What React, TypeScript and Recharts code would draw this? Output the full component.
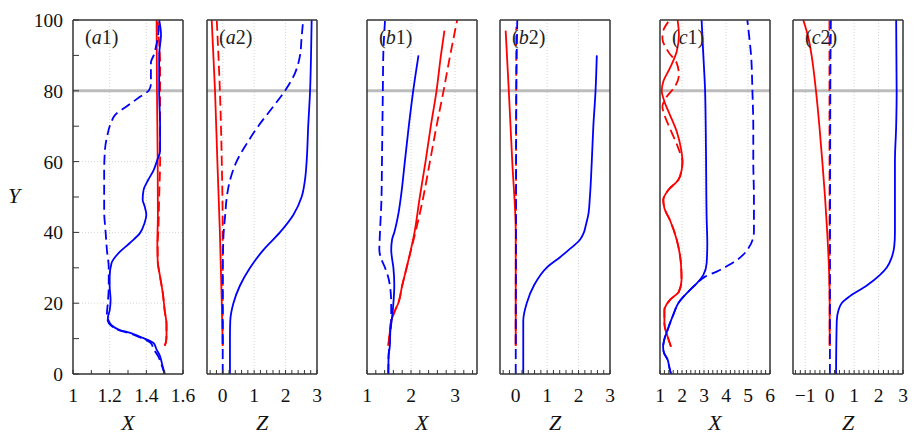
import { LineChart, Line, XAxis, YAxis, CartesianGrid, ReferenceLine } from 'recharts';

// vertical coordinate Y (shared by all panels)
const yTicks = [0, 10, 20, 30, 40, 50, 60, 70, 80, 90, 100];
const yLabels = [0, 20, 40, 60, 80, 100];
const yGrid = [20, 40, 60];
const markerY = 80;

// series as [Y, value] pairs
const a1BlueSolid = [[0, 1.5], [3, 1.485], [5, 1.475], [7, 1.455], [8.7, 1.44], [10, 1.39], [10.5, 1.365], [11.5, 1.32], [12.4, 1.255], [13.8, 1.21], [15, 1.195], [15.8, 1.19], [18, 1.2], [21, 1.205], [24.7, 1.2], [27.5, 1.2], [31.3, 1.21], [34, 1.246], [37, 1.31], [39.8, 1.365], [42.6, 1.39], [45, 1.4], [47.5, 1.39], [49.2, 1.38], [52, 1.385], [54.8, 1.41], [57.6, 1.44], [60.5, 1.46], [63, 1.475], [70, 1.475], [80, 1.47], [90, 1.47], [96, 1.48], [100, 1.47]];
const a1BlueDashed = [[0, 1.5], [3, 1.48], [5, 1.465], [7, 1.44], [8.7, 1.425], [10, 1.38], [11.5, 1.31], [12.4, 1.25], [13.8, 1.205], [15, 1.19], [17, 1.185], [20, 1.19], [25, 1.195], [30, 1.195], [35, 1.185], [40, 1.178], [46, 1.17], [50, 1.17], [57, 1.17], [63.7, 1.175], [68, 1.19], [70, 1.2], [71.3, 1.21], [73.2, 1.23], [75.5, 1.29], [78.3, 1.365], [80.2, 1.415], [82, 1.425], [85, 1.425], [88, 1.425], [90, 1.44], [93, 1.455], [96, 1.465], [100, 1.47]];
const a1RedSolid = [[8, 1.5], [9, 1.507], [11, 1.51], [14, 1.51], [18, 1.5], [22.8, 1.49], [27.5, 1.475], [32, 1.462], [37, 1.46], [45, 1.463], [60, 1.462], [80, 1.458], [100, 1.456]];
const a1RedDashed = [[8, 1.5], [9, 1.507], [11, 1.51], [14, 1.51], [18, 1.5], [22.8, 1.49], [27.5, 1.475], [32, 1.462], [37, 1.462], [40, 1.465], [50, 1.47], [60, 1.475], [70, 1.475], [80, 1.475], [88, 1.475], [95, 1.468], [100, 1.462]];

const a2BlueSolid = [[0, 0.23], [10, 0.23], [15, 0.24], [20, 0.34], [25, 0.55], [30, 0.87], [35, 1.29], [40, 1.82], [45, 2.25], [50, 2.51], [55, 2.62], [60, 2.67], [70, 2.72], [80, 2.78], [90, 2.81], [100, 2.83]];
const a2BlueDashed = [[0, 0], [30, 0], [35, 0.01], [40, 0.03], [45, 0.08], [50, 0.13], [55, 0.24], [60, 0.44], [65, 0.76], [70, 1.13], [75, 1.56], [80, 1.98], [85, 2.3], [90, 2.46], [95, 2.51], [100, 2.56]];
const a2RedSolid = [[8, 0], [20, -0.03], [40, -0.09], [60, -0.17], [80, -0.245], [100, -0.35]];
const a2RedDashed = [[8, 0], [40, 0], [60, -0.03], [80, -0.09], [100, -0.19]];

const b1BlueSolid = [[0, 1.485], [5, 1.49], [8, 1.52], [12, 1.53], [15, 1.56], [20, 1.6], [25, 1.62], [30, 1.6], [33, 1.565], [35, 1.55], [38, 1.57], [40, 1.62], [45, 1.71], [50, 1.77], [60, 1.86], [70, 1.95], [80, 2.05], [90, 2.17]];
const b1BlueDashed = [[0, 1.485], [5, 1.49], [8, 1.51], [12, 1.53], [15, 1.55], [20, 1.55], [25, 1.52], [27, 1.49], [30, 1.41], [33, 1.31], [35, 1.28], [40, 1.295], [50, 1.33], [60, 1.34], [80, 1.36], [90, 1.37], [100, 1.41]];
const b1RedSolid = [[8, 1.485], [12, 1.52], [15, 1.55], [18, 1.64], [20, 1.71], [25, 1.8], [30, 1.9], [40, 2.08], [50, 2.2], [60, 2.33], [70, 2.45], [80, 2.58], [90, 2.68], [97, 2.76]];
const b1RedDashed = [[8, 1.485], [12, 1.52], [15, 1.55], [18, 1.64], [20, 1.71], [25, 1.8], [30, 1.9], [38, 2.06], [40, 2.1], [50, 2.28], [60, 2.43], [70, 2.58], [80, 2.74], [90, 2.89], [100, 3.05]];

const b2BlueSolid = [[0, 0.24], [15, 0.24], [20, 0.35], [25, 0.58], [30, 0.98], [33, 1.41], [35, 1.68], [38, 2.05], [40, 2.17], [42, 2.23], [45, 2.31], [50, 2.36], [60, 2.42], [70, 2.47], [80, 2.54], [90, 2.58]];
const b2BlueDashed = [[0, 0], [50, 0.01], [80, 0.02], [100, 0.05]];
const b2RedSolid = [[8, 0], [40, 0], [60, -0.11], [80, -0.22], [97, -0.32]];
const b2RedDashed = [[8, 0], [60, 0.01], [98, 0.02]];

const c1BlueSolid = [[0, 1.5], [2, 1.42], [4, 1.35], [6, 1.18], [7.7, 1.14], [9, 1.17], [10.5, 1.23], [12, 1.32], [14.3, 1.45], [17, 1.62], [20, 1.83], [23.3, 2.29], [25.6, 2.67], [28, 2.97], [31.3, 3.12], [37, 3.15], [44, 3.12], [63, 3.09], [80, 3.05], [90, 2.97], [100, 2.89]];
const c1BlueDashed = [[0, 1.5], [2, 1.42], [4, 1.35], [6, 1.18], [7.7, 1.14], [9, 1.17], [10.5, 1.23], [12, 1.32], [14.3, 1.45], [17, 1.62], [20, 1.83], [23.3, 2.29], [25.6, 2.67], [27.5, 3.05], [29, 3.6], [30.5, 4.05], [32, 4.45], [33.5, 4.75], [35.5, 5.02], [37.9, 5.21], [40.3, 5.27], [50, 5.27], [60, 5.24], [70, 5.24], [80, 5.2], [90, 5.14], [95, 5.06], [100, 4.97]];
const c1RedSolid = [[7.7, 1.5], [10.5, 1.35], [14.3, 1.2], [18.1, 1.2], [20.9, 1.45], [23.3, 1.86], [26.6, 1.98], [31.3, 1.95], [37.9, 1.76], [43.5, 1.45], [46.8, 1.2], [49.2, 1.15], [52, 1.38], [54.8, 1.83], [57.5, 1.98], [60, 2.02], [63.8, 1.95], [68.5, 1.76], [73.2, 1.45], [77, 1.2], [80, 1.08], [82.6, 1.15], [86.4, 1.45], [91.1, 1.76], [95.8, 1.86], [100, 1.8]];
const c1RedDashed = [[7.7, 1.5], [10.5, 1.35], [14.3, 1.2], [18.1, 1.2], [20.9, 1.45], [23.3, 1.86], [26.6, 1.98], [31.3, 1.95], [37.9, 1.76], [43.5, 1.45], [46.8, 1.2], [49.2, 1.15], [52, 1.38], [54.8, 1.83], [57.5, 1.98], [60, 2.02], [63.8, 1.83], [69.4, 1.45], [73.2, 1.2], [75.5, 1.11], [78.3, 1.3], [81.2, 1.68], [84.5, 1.86], [87.8, 1.76], [91, 1.38], [94.8, 1.11], [97, 1.15], [99.5, 1.38]];

const c2BlueSolid = [[0, 0.26], [15, 0.29], [18, 0.36], [20, 0.49], [22, 0.83], [25, 1.52], [28, 2.06], [30, 2.33], [33, 2.54], [36, 2.64], [40, 2.67], [60, 2.67], [70, 2.72], [80, 2.74], [100, 2.72]];
const c2BlueDashed = [[0, 0.01], [60, 0.02], [85, 0.03], [100, 0.05]];
const c2RedSolid = [[8, 0], [20, 0], [30, -0.03], [40, -0.1], [50, -0.19], [60, -0.3], [70, -0.42], [80, -0.56], [90, -0.74], [95, -0.87], [100, -1.08]];
const c2RedDashed = [[8, 0], [100, -0.01]];

// horizontal axes
const a1Domain = [1, 1.6];
const a1Labels = [1, 1.2, 1.4, 1.6];
const zDomain = [-0.5, 3];
const zLabels = [0, 1, 2, 3];
const b1Domain = [1, 3.5];
const b1Labels = [1, 2, 3];
const c1Domain = [1, 6];
const c1Labels = [1, 2, 3, 4, 5, 6];
const c2Domain = [-1.5, 3];
const c2Labels = [-1, 0, 1, 2, 3];

const steps = (a: number, b: number, s: number) => {
  const out: number[] = [];
  for (let i = 0; a + i * s <= b + 1e-9; i++) out.push(Math.round((a + i * s) * 1000) / 1000);
  return out;
};

const toPoints = (pairs: number[][]) => pairs.map(([y, v]) => ({ y, v }));

const FONT = "'Liberation Serif', 'Times New Roman', serif";
const BLUE = '#0000ff';
const RED = '#ff0000';
const FRAME = '#333';

const panels = [
  { tag: 'a', n: '1', left: 73, name: 'X', domain: a1Domain, labels: a1Labels, minor: steps(1, 1.6, 0.1), grid: [1.2, 1.4], series: [a1RedSolid, a1RedDashed, a1BlueDashed, a1BlueSolid] },
  { tag: 'a', n: '2', left: 207, name: 'Z', domain: zDomain, labels: zLabels, minor: steps(-0.4, 3, 0.2), grid: [0, 1, 2], series: [a2RedSolid, a2RedDashed, a2BlueDashed, a2BlueSolid] },
  { tag: 'b', n: '1', left: 367, name: 'X', domain: b1Domain, labels: b1Labels, minor: steps(1, 3.4, 0.2), grid: [2, 3], series: [b1RedSolid, b1RedDashed, b1BlueDashed, b1BlueSolid] },
  { tag: 'b', n: '2', left: 500, name: 'Z', domain: zDomain, labels: zLabels, minor: steps(-0.4, 3, 0.2), grid: [0, 1, 2], series: [b2RedSolid, b2RedDashed, b2BlueDashed, b2BlueSolid] },
  { tag: 'c', n: '1', left: 660, name: 'X', domain: c1Domain, labels: c1Labels, minor: steps(1, 6, 0.2), grid: [2, 3, 4, 5], series: [c1RedSolid, c1RedDashed, c1BlueDashed, c1BlueSolid] },
  { tag: 'c', n: '2', left: 793, name: 'Z', domain: c2Domain, labels: c2Labels, minor: steps(-1.4, 3, 0.2), grid: [-1, 0, 1, 2], series: [c2RedSolid, c2RedDashed, c2BlueDashed, c2BlueSolid] },
];

const fmt = (v: number) => (v < 0 ? '\u2212' + Math.abs(v) : String(v));

const styles = [
  { stroke: RED, dash: undefined },
  { stroke: RED, dash: '10 5' },
  { stroke: BLUE, dash: '10 5' },
  { stroke: BLUE, dash: undefined },
];

function Panel({ p, first }: { p: (typeof panels)[number]; first: boolean }) {
  const ml = first ? 73 : 20;
  const tickFont = { fontFamily: FONT, fontSize: 19.5, fill: '#111' };
  return (
    <div style={{ position: 'absolute', left: p.left - ml, top: 0 }}>
      <LineChart
        width={ml + 130}
        height={436}
        layout="vertical"
        margin={{ top: 19, right: 19, bottom: 61, left: ml - 1 }}
      >
        <CartesianGrid
          horizontalValues={yGrid}
          verticalValues={p.grid}
          stroke="#d4d4d4"
          strokeDasharray="1 2"
        />
        <XAxis
          type="number"
          domain={p.domain}
          allowDataOverflow
          ticks={p.minor}
          interval={0}
          height={1}
          tickSize={-4}
          tickMargin={18}
          tickFormatter={(v: number) => (p.labels.includes(v) ? fmt(v) : '')}
          tick={tickFont}
          axisLine={{ stroke: FRAME, strokeWidth: 1.5 }}
          tickLine={{ stroke: FRAME }}
          label={{
            content: ({ viewBox }: any) => (
              <text x={viewBox.x + viewBox.width / 2} y={viewBox.y + 56} textAnchor="middle" fontFamily={FONT} fontStyle="italic" fontSize={22} fill="#111">
                {p.name}
              </text>
            ),
          }}
        />
        <XAxis
          xAxisId="top"
          orientation="top"
          type="number"
          domain={p.domain}
          allowDataOverflow
          ticks={p.minor}
          interval={0}
          height={1}
          tickSize={-4}
          tick={false}
          axisLine={{ stroke: FRAME, strokeWidth: 1.5 }}
          tickLine={{ stroke: FRAME }}
          label={{
            content: ({ viewBox }: any) => (
              <text x={viewBox.x + 12} y={viewBox.y + 25} fontFamily={FONT} fontSize={20} fill="#222">
                (<tspan fontStyle="italic">{p.tag}</tspan>{p.n})
              </text>
            ),
          }}
        />
        <YAxis
          type="number"
          dataKey="y"
          reversed
          domain={[0, 100]}
          allowDataOverflow
          ticks={yTicks}
          interval={0}
          width={1}
          tickSize={-6}
          tickMargin={16}
          tick={first ? tickFont : false}
          tickFormatter={(v: number) => (yLabels.includes(v) ? String(v) : '')}
          axisLine={{ stroke: FRAME, strokeWidth: 1.5 }}
          tickLine={{ stroke: FRAME }}
          label={
            first
              ? {
                  content: ({ viewBox }: any) => (
                    <text x={viewBox.x - 58} y={viewBox.y + viewBox.height / 2 + 6} textAnchor="middle" fontFamily={FONT} fontStyle="italic" fontSize={22} fill="#111">
                      Y
                    </text>
                  ),
                }
              : undefined
          }
        />
        <YAxis
          yAxisId="right"
          orientation="right"
          type="number"
          reversed
          domain={[0, 100]}
          allowDataOverflow
          ticks={yTicks}
          interval={0}
          width={1}
          tickSize={-6}
          tick={false}
          axisLine={{ stroke: FRAME, strokeWidth: 1.5 }}
          tickLine={{ stroke: FRAME }}
        />
        <ReferenceLine y={markerY} stroke="#bcbcbc" strokeWidth={3} />
        {p.series.map((s, i) => (
          <Line
            key={i}
            data={toPoints(s)}
            dataKey="v"
            type="monotone"
            stroke={styles[i].stroke}
            strokeDasharray={styles[i].dash}
            strokeWidth={1.8}
            dot={false}
            activeDot={false}
            isAnimationActive={false}
          />
        ))}
      </LineChart>
    </div>
  );
}

export default function App() {
  return (
    <div style={{ position: 'absolute', left: 0, top: 0, width: 917, height: 436, background: '#fff' }}>
      {panels.map((p, i) => (
        <Panel key={i} p={p} first={i === 0} />
      ))}
    </div>
  );
}
